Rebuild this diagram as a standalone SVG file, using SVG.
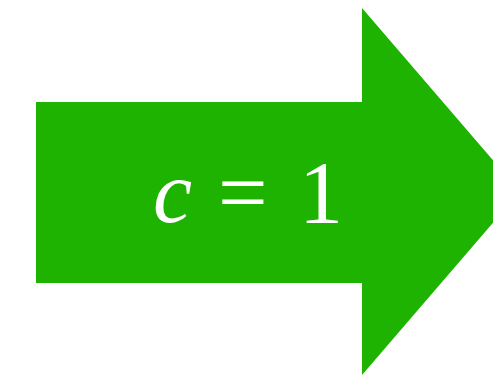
<svg xmlns="http://www.w3.org/2000/svg" width="493" height="375" viewBox="0 0 493 375">
<style>
.shape{fill:#1db300;stroke:none}
.lbl{font-family:'Liberation Serif',serif;font-size:88px;fill:#ffffff}
</style>
<g id="arrow">
<polygon class="shape" points="36,102 362,102 362,8 520,191.5 362,375 362,283 36,283"/>
<text class="lbl" y="222"><tspan x="153" font-style="italic">c</tspan><tspan x="218">=</tspan><tspan x="299">1</tspan></text>
</g>
</svg>
